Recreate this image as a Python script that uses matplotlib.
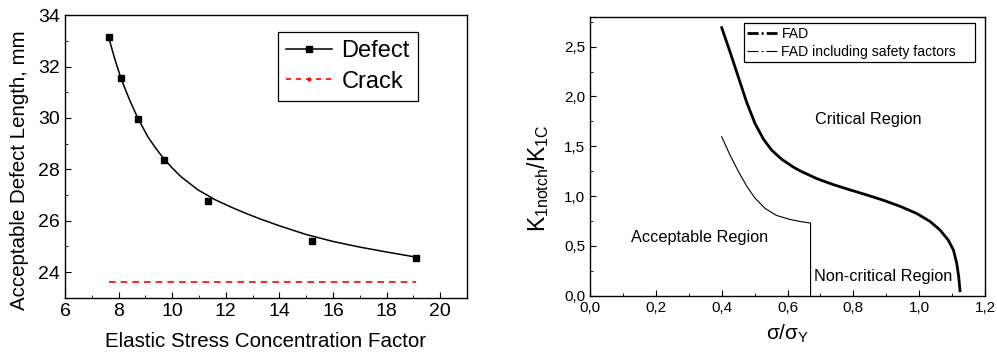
import matplotlib
matplotlib.use("Agg")
import matplotlib.pyplot as plt
from matplotlib.lines import Line2D
from matplotlib.ticker import MultipleLocator, FuncFormatter

plt.rcParams["font.family"] = ["Liberation Sans", "DejaVu Sans"]
plt.rcParams["mathtext.fontset"] = "custom"
plt.rcParams["mathtext.rm"] = "Liberation Sans"
plt.rcParams["mathtext.it"] = "Liberation Sans"

# left panel: acceptable defect length vs stress concentration factor
kt_points = [7.63, 8.1, 8.72, 9.68, 11.34, 15.2, 19.1]
defect_points = [33.13, 31.55, 29.96, 28.38, 26.78, 25.2, 24.55]
# fitted curve
kt_fit = [7.63, 7.85, 8.1, 8.41, 8.72, 9.1, 9.4, 9.68, 10.0, 10.34, 10.96, 11.59, 12.21,
          12.71, 13.3, 14.0, 15.0, 16.0, 17.0, 18.0, 19.1]
defect_fit = [33.13, 32.32, 31.5, 30.7, 29.98, 29.25, 28.8, 28.42, 28.05, 27.7, 27.2,
              26.82, 26.52, 26.3, 26.06, 25.8, 25.46, 25.19, 24.97, 24.78, 24.58]
crack_x = [7.65, 19.1]
crack_y = [23.6, 23.6]

# right panel: failure assessment diagram
fad_x = [0.400, 0.425, 0.451, 0.476, 0.501, 0.527, 0.552, 0.582, 0.618, 0.640, 0.689,
         0.739, 0.790, 0.840, 0.891, 0.942, 0.992, 1.033, 1.063, 1.088, 1.104, 1.114,
         1.120, 1.124]
fad_y = [2.69, 2.45, 2.19, 1.94, 1.73, 1.57, 1.46, 1.37, 1.29, 1.25, 1.175,
         1.115, 1.062, 1.012, 0.958, 0.897, 0.826, 0.745, 0.66, 0.559, 0.459, 0.325,
         0.19, 0.05]
fad_sf_x = [0.400, 0.425, 0.451, 0.476, 0.501, 0.532, 0.567, 0.608, 0.638, 0.668, 0.670, 0.670]
fad_sf_y = [1.596, 1.413, 1.245, 1.1, 0.98, 0.875, 0.805, 0.765, 0.745, 0.73, 0.73, 0.0]

fig = plt.figure(figsize=(9.97, 3.6), dpi=100)
ax1 = fig.add_axes([0.0652, 0.173, 0.4032, 0.785])
ax2 = fig.add_axes([0.5918, 0.1786, 0.3962, 0.775])

for ax in (ax1, ax2):
    ax.tick_params(which="both", direction="in", top=False, right=False)
    ax.tick_params(which="major", length=4)
    ax.tick_params(which="minor", length=2.5)
    for s in ax.spines.values():
        s.set_linewidth(1.0)

ax1.plot(kt_fit, defect_fit, color="black", lw=1.1)
ax1.plot(kt_points, defect_points, "s", color="black", ms=5)
ax1.plot(crack_x, crack_y, color="red", lw=1.2, ls=(0, (4, 3)))
ax1.set_xlim(6, 21)
ax1.set_ylim(23, 34)
ax1.xaxis.set_major_locator(MultipleLocator(2))
ax1.xaxis.set_minor_locator(MultipleLocator(1))
ax1.yaxis.set_major_locator(MultipleLocator(2))
ax1.yaxis.set_minor_locator(MultipleLocator(1))
ax1.tick_params(labelsize=14)
ax1.set_xlabel("Elastic Stress Concentration Factor", fontsize=14.8, labelpad=9)
ax1.set_ylabel("Acceptable Defect Length, mm", fontsize=14.8)
ax1.yaxis.set_label_coords(-0.09, 0.45)
h1 = [Line2D([], [], color="black", lw=1.1, marker="s", ms=5),
      Line2D([], [], color="red", lw=1.2, ls=(0, (3, 3)), marker=".", ms=4)]
leg1 = ax1.legend(h1, ["Defect", "Crack"], loc="upper right", bbox_to_anchor=(0.878, 0.94),
                  borderaxespad=0, fontsize=17, fancybox=False, edgecolor="black",
                  framealpha=1, handlelength=1.95, handletextpad=0.4, labelspacing=0.35,
                  borderpad=0.35)
leg1.get_frame().set_linewidth(0.9)

ax2.plot(fad_x, fad_y, color="black", lw=2.0)
ax2.plot(fad_sf_x, fad_sf_y, color="black", lw=0.8)
ax2.set_xlim(0, 1.2)
ax2.set_ylim(0, 2.8)
ax2.xaxis.set_major_locator(MultipleLocator(0.2))
ax2.xaxis.set_minor_locator(MultipleLocator(0.1))
ax2.yaxis.set_major_locator(MultipleLocator(0.5))
ax2.yaxis.set_minor_locator(MultipleLocator(0.25))
comma = FuncFormatter(lambda v, p: f"{v:.1f}".replace(".", ","))
ax2.xaxis.set_major_formatter(comma)
ax2.yaxis.set_major_formatter(comma)
ax2.tick_params(labelsize=11)
ax2.set_xlabel(r"$\sigma/\sigma_Y$", fontsize=15, labelpad=6)
ax2.set_ylabel(r"$K_{1notch}/K_{1C}$", fontsize=16.5)
ax2.yaxis.set_label_coords(-0.1, 0.42)
ax2.text(0.845, 1.77, "Critical Region", fontsize=11.7, ha="center", va="center")
ax2.text(0.334, 0.585, "Acceptable Region", fontsize=11.7, ha="center", va="center")
ax2.text(0.891, 0.19, "Non-critical Region", fontsize=11.7, ha="center", va="center")
h2 = [Line2D([], [], color="black", lw=2.0, ls=(0, (4.0, 1.1, 0.7, 1.1))),
      Line2D([], [], color="black", lw=0.8, ls=(0, (9.9, 2.7, 1.8, 2.7)))]
leg2 = ax2.legend(h2, ["FAD", "FAD including safety factors    "], loc="upper right",
                  bbox_to_anchor=(0.975, 0.977), borderaxespad=0, fontsize=10.1,
                  fancybox=False, edgecolor="black", framealpha=1, handlelength=2.15,
                  handletextpad=0.3, labelspacing=0.3, borderpad=0.25)
leg2.get_frame().set_linewidth(0.9)

fig.savefig("out.png", dpi=100)
